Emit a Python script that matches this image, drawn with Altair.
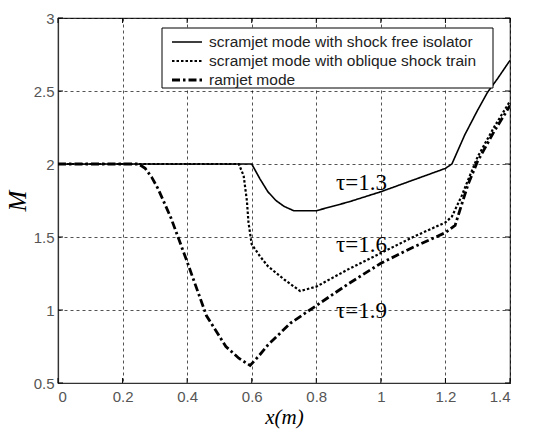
import altair as alt
import pandas as pd

series_names = [
    "scramjet mode with shock free isolator",
    "scramjet mode with oblique shock train",
    "ramjet mode",
]

x_free = [0.0, 0.2, 0.4, 0.6, 0.625, 0.65, 0.675, 0.70, 0.73, 0.76, 0.80, 0.90, 1.0, 1.1, 1.2, 1.22, 1.26, 1.30, 1.33, 1.36, 1.40]
m_free = [2.0, 2.0, 2.0, 2.0, 1.90, 1.81, 1.75, 1.71, 1.68, 1.68, 1.68, 1.74, 1.81, 1.89, 1.97, 2.0, 2.2, 2.37, 2.49, 2.58, 2.71]

x_obl = [0.0, 0.2, 0.4, 0.56, 0.575, 0.585, 0.59, 0.60, 0.625, 0.65, 0.70, 0.75, 0.80, 0.85, 0.90, 1.0, 1.1, 1.2, 1.22, 1.25, 1.27, 1.30, 1.35, 1.40]
m_obl = [2.0, 2.0, 2.0, 2.0, 1.92, 1.75, 1.6, 1.45, 1.37, 1.30, 1.21, 1.13, 1.16, 1.22, 1.28, 1.39, 1.50, 1.60, 1.64, 1.78, 1.89, 2.05, 2.25, 2.43]

x_ram = [0.0, 0.2, 0.25, 0.27, 0.29, 0.31, 0.35, 0.40, 0.46, 0.52, 0.56, 0.595, 0.62, 0.65, 0.72, 0.80, 0.90, 1.0, 1.1, 1.2, 1.23, 1.25, 1.27, 1.30, 1.35, 1.40]
m_ram = [2.0, 2.0, 2.0, 1.97, 1.91, 1.83, 1.63, 1.33, 0.96, 0.75, 0.67, 0.62, 0.68, 0.76, 0.91, 1.03, 1.18, 1.32, 1.43, 1.53, 1.58, 1.72, 1.86, 2.02, 2.22, 2.40]

x_ticks = [0, 0.2, 0.4, 0.6, 0.8, 1.0, 1.2, 1.4]
y_ticks = [0.5, 1.0, 1.5, 2.0, 2.5, 3.0]

label_texts = ["τ=1.3", "τ=1.6", "τ=1.9"]
label_x = [0.94, 0.94, 0.94]
label_y = [1.87, 1.445, 0.99]

dash_styles = [[1, 0], [2.5, 2], [8, 3, 2.5, 3]]
stroke_widths = [1.6, 2.8, 2.8]

rows = []
for name, xs, ms in [(series_names[0], x_free, m_free), (series_names[1], x_obl, m_obl), (series_names[2], x_ram, m_ram)]:
    for i, (a, b) in enumerate(zip(xs, ms)):
        rows.append({"series": name, "x": a, "M": b, "order": i})
df = pd.DataFrame(rows)

labels_df = pd.DataFrame({"text": label_texts, "x": label_x, "M": label_y})
xt_df = pd.DataFrame({"x": x_ticks})
yt_df = pd.DataFrame({"M": y_ticks})

xscale = alt.Scale(domain=[0, 1.4], nice=False, zero=False)
yscale = alt.Scale(domain=[0.5, 3], nice=False, zero=False)
dash_scale = alt.Scale(domain=series_names, range=dash_styles)
width_scale = alt.Scale(domain=series_names, range=stroke_widths)

lines = alt.Chart(df).mark_line(color="black", clip=True).encode(
    x=alt.X("x:Q", scale=xscale,
            axis=alt.Axis(values=x_ticks, title="x(m)", format="~g",
                          titleFont="Liberation Serif", titleFontStyle="italic",
                          titleFontSize=21, titleFontWeight="normal", titleColor="black",
                          titlePadding=2, labelPadding=6)),
    y=alt.Y("M:Q", scale=yscale,
            axis=alt.Axis(values=y_ticks, title="M", format="~g",
                          titleFont="Liberation Serif", titleFontStyle="italic",
                          titleFontSize=25, titleFontWeight="normal", titleColor="black",
                          titlePadding=3, labelPadding=4)),
    order="order:Q",
    strokeDash=alt.StrokeDash("series:N", scale=dash_scale, legend=None),
    strokeWidth=alt.StrokeWidth("series:N", scale=width_scale, legend=None),
)

labels = alt.Chart(labels_df).mark_text(
    font="Liberation Serif", fontSize=23, align="center", baseline="middle", color="black"
).encode(x=alt.X("x:Q", scale=xscale), y=alt.Y("M:Q", scale=yscale), text="text:N")

# legend drawn as a box with sample lines and labels
leg_df = pd.DataFrame({"series": series_names})
leg_box = alt.Chart(pd.DataFrame({"a": [0]})).mark_rect(
    fill="white", stroke="black", strokeWidth=1
).encode(x=alt.value(104), x2=alt.value(435), y=alt.value(10), y2=alt.value(70))
leg_rows = [24, 43, 62]
leg_layers = []
for name, ry in zip(series_names, leg_rows):
    base = alt.Chart(leg_df).transform_filter(alt.datum.series == name)
    leg_layers.append(base.mark_rule(color="black").encode(
        x=alt.value(114), x2=alt.value(144), y=alt.value(ry),
        strokeDash=alt.StrokeDash("series:N", scale=dash_scale, legend=None),
        strokeWidth=alt.StrokeWidth("series:N", scale=width_scale, legend=None),
    ))
    leg_layers.append(base.mark_text(
        align="left", baseline="middle", font="Liberation Sans", fontSize=15.5, color="#222"
    ).encode(x=alt.value(151), y=alt.value(ry), text="series:N"))

top_ticks = alt.Chart(xt_df).mark_rule(color="black", strokeWidth=1).encode(
    x=alt.X("x:Q", scale=xscale), y=alt.value(0), y2=alt.value(5))
bottom_ticks = alt.Chart(xt_df).mark_rule(color="black", strokeWidth=1).encode(
    x=alt.X("x:Q", scale=xscale), y=alt.value(360), y2=alt.value(365))
left_ticks = alt.Chart(yt_df).mark_rule(color="black", strokeWidth=1).encode(
    y=alt.Y("M:Q", scale=yscale), x=alt.value(0), x2=alt.value(5))
right_ticks = alt.Chart(yt_df).mark_rule(color="black", strokeWidth=1).encode(
    y=alt.Y("M:Q", scale=yscale), x=alt.value(447), x2=alt.value(452))

chart = alt.layer(
    lines, labels, top_ticks, bottom_ticks, left_ticks, right_ticks,
    leg_box, *leg_layers,
).properties(
    width=452, height=365,
    background="white",
    autosize=alt.AutoSizeParams(type="none"),
    padding={"left": 58, "top": 18, "right": 33, "bottom": 52},
).configure_view(stroke="#333", strokeWidth=1.2).configure_axis(
    grid=True, gridColor="black", gridDash=[3, 3], gridWidth=0.8, gridOpacity=0.85,
    domainColor="#333", domainWidth=1.2, ticks=False,
    labelFont="Liberation Sans", labelFontSize=15, labelColor="#555",
)

chart.save("out.html", embed_options={"renderer": "svg", "actions": False})
